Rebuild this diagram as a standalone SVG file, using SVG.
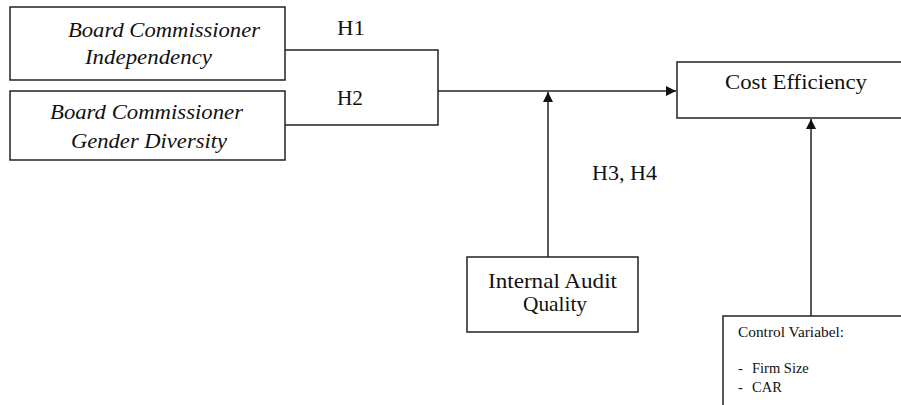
<svg xmlns="http://www.w3.org/2000/svg" width="901" height="405" viewBox="0 0 901 405">
<defs>
<style>
.box{fill:#fff;stroke:#222;stroke-width:1.5}
.t{font-family:"Liberation Serif","Times New Roman",serif;font-size:21px;fill:#111}
.i{font-style:italic}
.s{font-family:"Liberation Serif","Times New Roman",serif;font-size:14.5px;fill:#111}
.ln{fill:none;stroke:#222;stroke-width:1.5}
</style>
<marker id="ah" viewBox="0 0 10 10" refX="10" refY="5" markerWidth="10" markerHeight="10" markerUnits="userSpaceOnUse" orient="auto">
<path d="M0,0 L10,5 L0,10 z" fill="#111"/>
</marker>
</defs>
<rect width="901" height="405" fill="#fff"/>
<g id="connectors">
<path class="ln" d="M285,50 H438 V125 H285"/>
<path class="ln" d="M438,91 H676" marker-end="url(#ah)"/>
<path class="ln" d="M548,257 V92" stroke="#555" marker-end="url(#ah)"/>
<path class="ln" d="M811,316 V119" marker-end="url(#ah)"/>
<text class="t" x="337" y="35" textLength="28" lengthAdjust="spacingAndGlyphs">H1</text>
<text class="t" x="337" y="105" textLength="26" lengthAdjust="spacingAndGlyphs">H2</text>
<text class="t" x="592" y="180" textLength="65" lengthAdjust="spacingAndGlyphs">H3, H4</text>
</g>
<g id="bci">
<rect class="box" x="10" y="7" width="275" height="73"/>
<text class="t i" x="68" y="37" textLength="192" lengthAdjust="spacingAndGlyphs">Board Commissioner</text>
<text class="t i" x="85" y="64" textLength="127" lengthAdjust="spacingAndGlyphs">Independency</text>
</g>
<g id="bcgd">
<rect class="box" x="10" y="91" width="275" height="69"/>
<text class="t i" x="50" y="119" textLength="193" lengthAdjust="spacingAndGlyphs">Board Commissioner</text>
<text class="t i" x="71" y="148" textLength="156" lengthAdjust="spacingAndGlyphs">Gender Diversity</text>
</g>
<g id="cost">
<rect class="box" x="677" y="62" width="240" height="56"/>
<text class="t" x="725" y="89" textLength="142" lengthAdjust="spacingAndGlyphs">Cost Efficiency</text>
</g>
<g id="iaq">
<rect class="box" x="467" y="257" width="171" height="75"/>
<text class="t" x="488" y="288" textLength="129" lengthAdjust="spacingAndGlyphs">Internal Audit</text>
<text class="t" x="523" y="311" textLength="64" lengthAdjust="spacingAndGlyphs">Quality</text>
</g>
<g id="control">
<rect class="box" x="723" y="316" width="200" height="110"/>
<text class="s" x="738" y="337" textLength="106" lengthAdjust="spacingAndGlyphs">Control Variabel:</text>
<text class="s" y="373"><tspan x="738">-</tspan><tspan x="752">Firm Size</tspan></text>
<text class="s" y="392"><tspan x="738">-</tspan><tspan x="752">CAR</tspan></text>
</g>
</svg>
